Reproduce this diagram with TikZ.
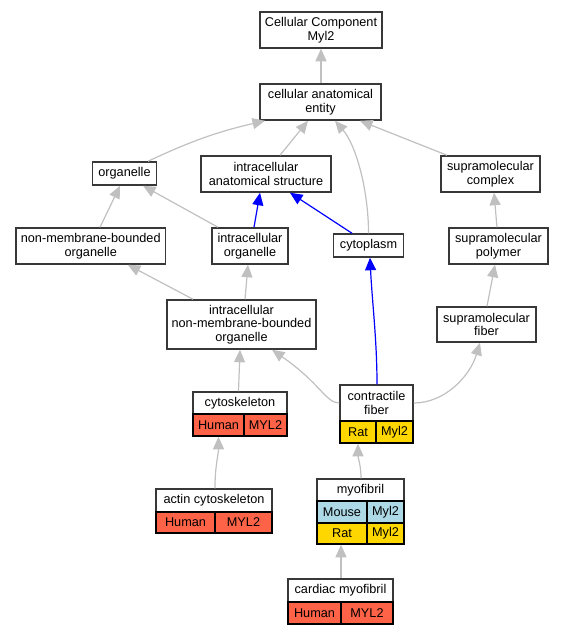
\documentclass[tikz,border=0pt]{standalone}
\usepackage{fontspec}
\setmainfont{Liberation Sans}
\usetikzlibrary{arrows.meta}
\definecolor{edgegray}{HTML}{C0C0C0}
\definecolor{tomatored}{HTML}{FF6347}
\definecolor{goldy}{HTML}{FFD700}
\definecolor{lblue}{HTML}{ADD8E6}
\definecolor{bordergray}{HTML}{383838}
\begin{document}
\begin{tikzpicture}[x=1pt,y=-1pt,
  box/.style={draw=bordergray, line width=1.5pt, fill=white, inner sep=0pt, align=center,
    font=\fontsize{12.7pt}{13.5pt}\selectfont},
  cell/.style={box, draw=black},
  edge/.style={color=edgegray, line width=1.2pt, -{Triangle[length=12.5pt,width=11pt]}},
  bluedge/.style={edge, color=blue}]
\useasboundingbox (0,0) rectangle (564,635);
% plain boxes
\node[box, minimum width=122pt, minimum height=36pt] (cc) at (321,30) {Cellular Component\\Myl2};
\node[box, minimum width=121pt, minimum height=36pt] (cae) at (320.5,102) {cellular anatomical\\entity};
\node[box, minimum width=64pt, minimum height=23pt] (org) at (124.5,173.5) {organelle};
\node[box, minimum width=130pt, minimum height=36pt] (ias) at (266,174) {intracellular\\anatomical structure};
\node[box, minimum width=99pt, minimum height=36pt] (supc) at (490.5,174) {supramolecular\\complex};
\node[box, minimum width=149.5pt, minimum height=36pt] (nmbo) at (90.75,246) {non-membrane-bounded\\organelle};
\node[box, minimum width=76pt, minimum height=36pt] (intorg) at (250,246) {intracellular\\organelle};
\node[box, minimum width=70pt, minimum height=23pt] (cyto) at (368.5,245.5) {cytoplasm};
\node[box, minimum width=99pt, minimum height=36pt] (supp) at (498.5,246) {supramolecular\\polymer};
\node[box, minimum width=149pt, minimum height=49pt] (inmbo) at (241.5,324.5) {intracellular\\non-membrane-bounded\\organelle};
\node[box, minimum width=99pt, minimum height=35pt] (supf) at (486.5,324.5) {supramolecular\\fiber};
% cytoskeleton table
\node[box, minimum width=94pt, minimum height=22pt] (csk) at (240,403) {cytoskeleton};
\node[cell, fill=tomatored, minimum width=51pt, minimum height=22pt] (cskH) at (218.5,425) {Human};
\node[cell, fill=tomatored, minimum width=43pt, minimum height=22pt] (cskG) at (265.5,425) {MYL2};
% contractile fiber table
\node[box, minimum width=73pt, minimum height=36pt] (cf) at (376.5,403) {contractile\\fiber};
\node[cell, fill=goldy, minimum width=36pt, minimum height=22pt] (cfR) at (358,432) {Rat};
\node[cell, fill=goldy, minimum width=37pt, minimum height=22pt] (cfG) at (394.5,432) {Myl2};
% actin cytoskeleton table
\node[box, minimum width=116pt, minimum height=23pt] (ac) at (214,500.5) {actin cytoskeleton};
\node[cell, fill=tomatored, minimum width=59pt, minimum height=21pt] (acH) at (185.5,522.5) {Human};
\node[cell, fill=tomatored, minimum width=57pt, minimum height=21pt] (acG) at (243.5,522.5) {MYL2};
% myofibril table
\node[box, minimum width=87pt, minimum height=22pt] (mf) at (360.5,490) {myofibril};
\node[cell, fill=lblue, minimum width=50pt, minimum height=22pt] (mfM) at (342,512) {Mouse};
\node[cell, fill=lblue, minimum width=37pt, minimum height=22pt] (mfMG) at (385.5,512) {Myl2};
\node[cell, fill=goldy, minimum width=50pt, minimum height=21pt] (mfR) at (342,533.5) {Rat};
\node[cell, fill=goldy, minimum width=37pt, minimum height=21pt] (mfRG) at (385.5,533.5) {Myl2};
% cardiac myofibril table
\node[box, minimum width=105pt, minimum height=23pt] (cm) at (340.5,590.5) {cardiac myofibril};
\node[cell, fill=tomatored, minimum width=53pt, minimum height=22pt] (cmH) at (314.5,613) {Human};
\node[cell, fill=tomatored, minimum width=52pt, minimum height=22pt] (cmG) at (367,613) {MYL2};
% edges
\draw[edge] ([xshift=0.5pt]cae.north) -- (cc.south);
\draw[edge] ([xshift=23.5pt]org.north) to[bend left=6] ([xshift=-55.5pt]cae.south);
\draw[edge] ([xshift=14pt]ias.north) -- ([xshift=-12.5pt]cae.south);
\draw[edge] (cyto.north) .. controls (368.5,190) and (356,145) .. ([xshift=14.5pt]cae.south);
\draw[edge] ([xshift=-43.5pt]supc.north) -- ([xshift=39.5pt]cae.south);
\draw[edge] ([xshift=9.25pt]nmbo.north) -- ([xshift=-4.5pt]org.south);
\draw[edge] ([xshift=-32pt]intorg.north) -- ([xshift=18.5pt]org.south);
\draw[bluedge] ([xshift=4pt]intorg.north) -- ([xshift=-6pt]ias.south);
\draw[bluedge] ([xshift=-16.5pt]cyto.north) -- ([xshift=24pt]ias.south);
\draw[edge] ([xshift=-1.5pt]supp.north) -- ([xshift=3.5pt]supc.south);
\draw[edge] ([xshift=0.5pt]supf.north) -- ([xshift=-3.5pt]supp.south);
\draw[edge] ([xshift=-48.5pt]inmbo.north) -- ([xshift=37pt]nmbo.south);
\draw[edge] ([xshift=3.5pt]inmbo.north) -- ([xshift=-2pt]intorg.south);
\draw[bluedge] ([xshift=0.5pt]cf.north) .. controls (377,340) and (372,300) .. ([xshift=1.5pt]cyto.south);
\draw[edge] ([xshift=-1.5pt]csk.north) -- ([xshift=-1.5pt]inmbo.south);
\draw[edge] (cf.west) .. controls (326,403) and (320,383) .. ([xshift=30.5pt]inmbo.south);
\draw[edge] (cf.east) .. controls (445,403) and (470,376) .. ([xshift=-6.5pt]supf.south);
\draw[edge] ([xshift=1pt]ac.north) .. controls (215,465) and (218.5,455) .. (cskH.south);
\draw[edge] ([xshift=0.5pt]mf.north) .. controls (361,465) and (358,458) .. (cfR.south);
\draw[edge] ([xshift=0.5pt]cm.north) -- ([xshift=-1pt]mfR.south);
\end{tikzpicture}
\end{document}
